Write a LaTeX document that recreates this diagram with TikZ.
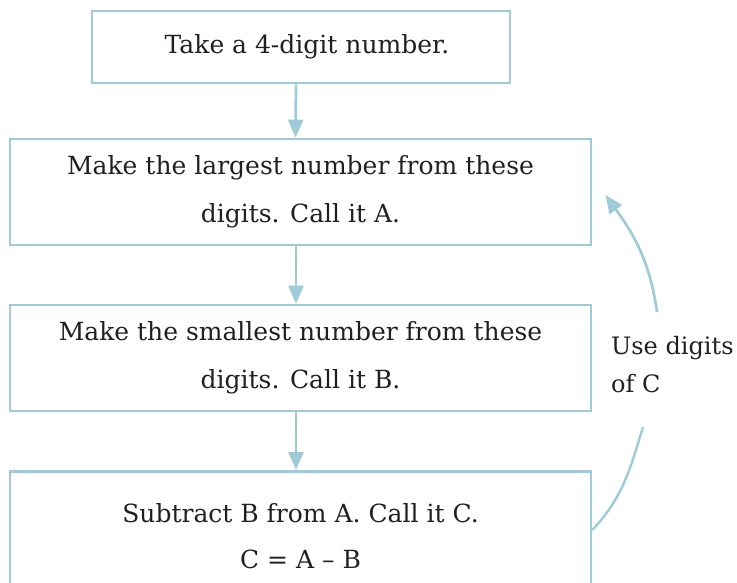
\documentclass[tikz,border=0pt]{standalone}
\usepackage{fontspec}
\setmainfont{DejaVu Serif}
\usetikzlibrary{arrows.meta}
\definecolor{flowblue}{RGB}{158,203,215}
\definecolor{inktext}{RGB}{35,31,32}
\begin{document}
\begin{tikzpicture}[x=1pt, y=1pt,
    box/.style={draw=flowblue, line width=2.7pt, align=center, text=inktext,
      font=\fontsize{25}{48}\selectfont, inner sep=0pt},
    flow/.style={draw=flowblue, line width=2.7pt,
      -{Triangle[length=18pt, width=15pt]}},
    loopline/.style={draw=flowblue, line width=2.4pt}]
            \useasboundingbox (0, 0) rectangle (737, -583);
            \clip (0, 0) rectangle (737, -583);

            \node[box, minimum width=418, minimum height=72] (take) at (301, -47) {\hspace*{12pt}Take a 4-digit number.};
            \node[box, minimum width=581, minimum height=106] (largest) at (300.5, -192) {Make the largest number from these\\ digits. Call it A.};
            \node[box, minimum width=581, minimum height=106] (smallest) at (300.5, -358) {Make the smallest number from these\\ digits. Call it B.};
            \node[box, minimum width=581, minimum height=130, anchor=north, font=\fontsize{25}{46}\selectfont] (subtract) at (300.5, -470) {Subtract B from A. Call it C.\\ C = A -- B};

            \draw[flow] ([xshift=-5pt]take.south) -- ([xshift=-5pt]largest.north);
            \draw[flow] ([xshift=-4.5pt]largest.south) -- ([xshift=-4.5pt]smallest.north);
            \draw[flow] ([xshift=-4.5pt]smallest.south) -- ([xshift=-4.5pt]subtract.north);

            \path (subtract.north east) ++(0, -60) coordinate (L0);
            \path (643, -427) coordinate (L1);
            \path (657, -312) coordinate (U0);
            \path (largest.east) ++(13, -3) coordinate (U1);

            \draw[loopline] (L0) to[out=47, in=-107] (L1);
            \draw[loopline, flow] (U0) to[out=98, in=-54] (U1);
            \node[anchor=north west, align=left, text=inktext, font=\fontsize{24}{38}\selectfont, inner sep=0pt] (usec) at (611, -336) {Use digits\\ of C};
        \end{tikzpicture}
\end{document}
